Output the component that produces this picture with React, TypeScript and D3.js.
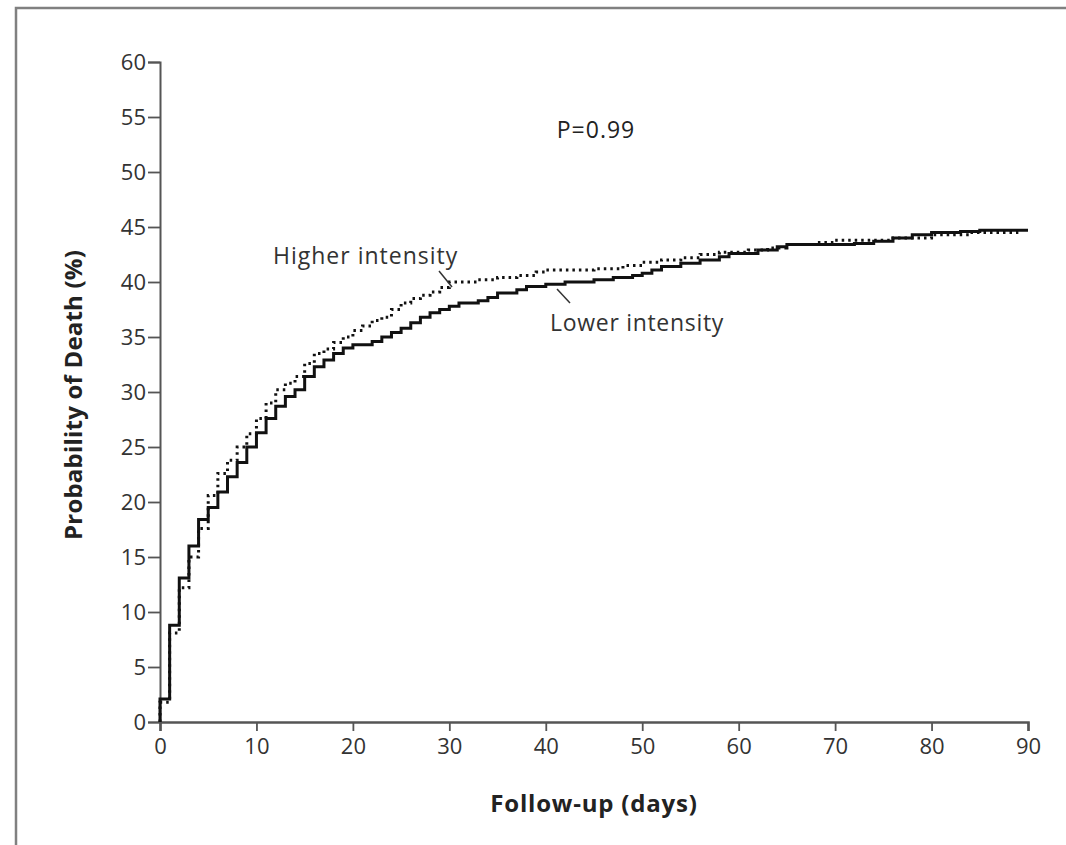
import React, { useEffect, useRef } from 'react';
import * as d3 from 'd3';

// Kaplan-Meier style cumulative probability of death (%), step after each day
const lowerDays = [0, 1, 2, 3, 4, 5, 6, 7, 8, 9, 10, 11, 12, 13, 14, 15, 16, 17, 18, 19, 20, 22, 23, 24, 25, 26, 27, 28, 29, 30, 31, 33, 34, 35, 37, 38, 40, 42, 45, 47, 49, 50, 51, 52, 54, 56, 58, 59, 62, 64, 65, 72, 74, 76, 78, 80, 83, 85, 90];
const lowerValues = [2.1, 8.8, 13.1, 16.0, 18.4, 19.5, 20.9, 22.3, 23.6, 25.0, 26.3, 27.6, 28.7, 29.6, 30.2, 31.4, 32.3, 32.9, 33.5, 34.0, 34.3, 34.6, 35.0, 35.4, 35.8, 36.3, 36.8, 37.2, 37.5, 37.8, 38.1, 38.3, 38.6, 39.0, 39.3, 39.6, 39.8, 40.0, 40.2, 40.4, 40.6, 40.8, 41.1, 41.4, 41.7, 42.0, 42.3, 42.6, 42.9, 43.2, 43.4, 43.5, 43.7, 44.0, 44.3, 44.5, 44.6, 44.7, 44.7];

const higherDays = [0, 1, 2, 3, 4, 5, 6, 7, 8, 9, 10, 11, 12, 13, 14, 15, 16, 17, 18, 19, 20, 21, 22, 23, 24, 25, 26, 27, 28, 29, 30, 33, 35, 37, 39, 40, 45, 48, 50, 52, 54, 56, 58, 61, 63, 65, 68, 70, 76, 80, 84, 89];
const higherValues = [1.8, 8.1, 12.2, 15.0, 17.6, 20.6, 22.6, 23.8, 25.0, 26.2, 27.6, 29.0, 30.2, 30.8, 31.4, 32.6, 33.5, 33.9, 34.5, 35.0, 35.6, 36.0, 36.5, 36.8, 37.5, 38.1, 38.5, 38.8, 39.1, 39.5, 40.0, 40.2, 40.4, 40.6, 40.9, 41.1, 41.2, 41.5, 41.8, 42.0, 42.2, 42.5, 42.7, 42.9, 43.1, 43.4, 43.6, 43.8, 44.0, 44.3, 44.5, 44.5];

const xTicks = [0, 10, 20, 30, 40, 50, 60, 70, 80, 90];
const yTicks = [0, 5, 10, 15, 20, 25, 30, 35, 40, 45, 50, 55, 60];

const App = () => {
  const ref = useRef<SVGSVGElement | null>(null);

  useEffect(() => {
    const width = 1066;
    const height = 845;
    const left = 160, right = 1028, top = 62, bottom = 722;
    const font = "'Open Sans', 'DejaVu Sans', sans-serif";

    const svg = d3.select(ref.current);
    svg.selectAll('*').remove();
    svg.attr('width', width).attr('height', height);

    svg.append('rect').attr('width', width).attr('height', height).attr('fill', '#fff');

    // frame (top and left edges only visible)
    svg.append('path')
      .attr('d', `M16,${height} L16,8 L${width},8`)
      .attr('fill', 'none')
      .attr('stroke', '#808080')
      .attr('stroke-width', 2.5);

    const x = d3.scaleLinear().domain([0, 90]).range([left, right]);
    const y = d3.scaleLinear().domain([0, 60]).range([bottom, top]);

    const axisColor = '#555';

    // y axis
    const yAxis = svg.append('g').attr('transform', `translate(${left},0)`)
      .call(d3.axisLeft(y).tickValues(yTicks).tickSize(12).tickPadding(2).tickFormat(d3.format('d')));
    yAxis.select('.domain').attr('stroke', axisColor).attr('stroke-width', 2);
    yAxis.selectAll('.tick line').attr('stroke', axisColor).attr('stroke-width', 1.8);
    yAxis.selectAll('.tick text')
      .attr('font-family', font).attr('font-size', 22).attr('fill', '#333');

    // x axis
    const xAxis = svg.append('g').attr('transform', `translate(0,${bottom})`)
      .call(d3.axisBottom(x).tickValues(xTicks).tickSizeOuter(0).tickSize(9).tickPadding(7).tickFormat(d3.format('d')));
    xAxis.select('.domain').attr('stroke', axisColor).attr('stroke-width', 2.5);
    xAxis.selectAll('.tick line').attr('stroke', axisColor).attr('stroke-width', 1.8);
    xAxis.selectAll('.tick text')
      .attr('font-family', font).attr('font-size', 22).attr('fill', '#333');

    const line = d3.line<[number, number]>()
      .x(d => x(d[0]))
      .y(d => y(d[1]))
      .curve(d3.curveStepAfter);

    const lowerPts: [number, number][] = [[0, 0], ...lowerDays.map((d, i) => [d, lowerValues[i]] as [number, number])];
    const higherPts: [number, number][] = [[0, 0], ...higherDays.map((d, i) => [d, higherValues[i]] as [number, number])];

    svg.append('path')
      .attr('d', line(higherPts))
      .attr('fill', 'none')
      .attr('stroke', '#111')
      .attr('stroke-width', 3)
      .attr('stroke-dasharray', '2.5 4');

    svg.append('path')
      .attr('d', line(lowerPts))
      .attr('fill', 'none')
      .attr('stroke', '#111')
      .attr('stroke-width', 3);

    // annotations
    svg.append('text')
      .attr('x', 596).attr('y', 138)
      .attr('text-anchor', 'middle')
      .attr('font-family', font).attr('font-size', 23).attr('letter-spacing', 1).attr('fill', '#222')
      .text('P=0.99');

    svg.append('text')
      .attr('x', 273).attr('y', 264)
      .attr('font-family', font).attr('font-size', 23).attr('letter-spacing', 1).attr('fill', '#333')
      .text('Higher intensity');
    svg.append('line')
      .attr('x1', 439).attr('y1', 271).attr('x2', 452).attr('y2', 287)
      .attr('stroke', '#333').attr('stroke-width', 1.5);

    svg.append('text')
      .attr('x', 550).attr('y', 331)
      .attr('font-family', font).attr('font-size', 23).attr('letter-spacing', 0.7).attr('fill', '#333')
      .text('Lower intensity');
    svg.append('line')
      .attr('x1', 557).attr('y1', 289).attr('x2', 570).attr('y2', 303)
      .attr('stroke', '#333').attr('stroke-width', 1.5);

    // axis titles
    svg.append('text')
      .attr('transform', `translate(82,${(top + bottom) / 2 + 3}) rotate(-90)`)
      .attr('text-anchor', 'middle')
      .attr('font-family', font).attr('font-size', 24).attr('font-weight', 'bold')
      .attr('letter-spacing', 0.2).attr('fill', '#222')
      .text('Probability of Death (%)');

    svg.append('text')
      .attr('x', (left + right) / 2).attr('y', 812)
      .attr('text-anchor', 'middle')
      .attr('font-family', font).attr('font-size', 24).attr('font-weight', 'bold')
      .attr('letter-spacing', 0.8).attr('fill', '#222')
      .text('Follow-up (days)');
  }, []);

  return (
    <div style={{ position: 'absolute', left: 0, top: 0 }}>
      <svg ref={ref} style={{ display: 'block' }}></svg>
    </div>
  );
};

export default App;
